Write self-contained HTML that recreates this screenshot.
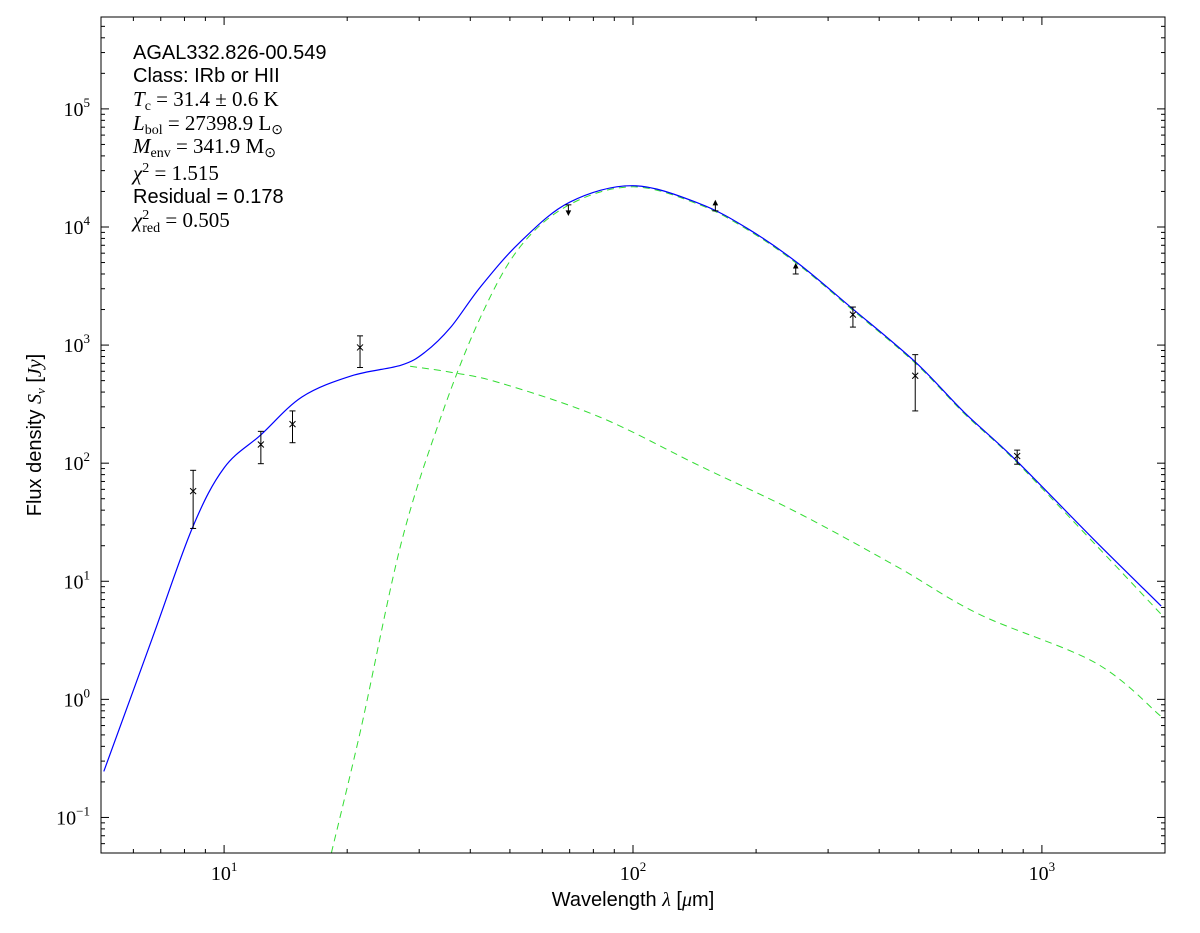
<!DOCTYPE html>
<html><head><meta charset="utf-8">
<style>
html,body{margin:0;padding:0;background:#fff;}
svg{display:block;}
.sans{font-family:"Liberation Sans",sans-serif;}
.serif{font-family:"Liberation Serif",serif;}
</style></head>
<body>
<svg id="chart" width="1200" height="933" viewBox="0 0 1200 933" xmlns="http://www.w3.org/2000/svg">
<rect x="0" y="0" width="1200" height="933" fill="#fff"/>
<g id="curves"></g>
<g id="points"></g>
<g id="ticks"></g>
<rect x="101" y="17" width="1064" height="836" fill="none" stroke="#000" stroke-width="1"/>
<g class="sans" font-size="20" fill="#000">
<text x="133" y="59">AGAL332.826-00.549</text>
<text x="133" y="82">Class: IRb or HII</text>
<text class="serif" font-size="21" x="133" y="106"><tspan font-style="italic">T</tspan><tspan font-size="14" dy="4">c</tspan><tspan dy="-4"> = 31.4 ± 0.6 K</tspan></text>
<text class="serif" font-size="21" x="133" y="130"><tspan font-style="italic">L</tspan><tspan font-size="14" dy="4">bol</tspan><tspan dy="-4"> = 27398.9 L</tspan><tspan font-size="14" dy="4">⊙</tspan></text>
<text class="serif" font-size="21" x="133" y="153"><tspan font-style="italic">M</tspan><tspan font-size="14" dy="4">env</tspan><tspan dy="-4"> = 341.9 M</tspan><tspan font-size="14" dy="4">⊙</tspan></text>
<text class="serif" font-size="21" x="133" y="180"><tspan font-style="italic">χ</tspan><tspan font-size="14" dy="-8">2</tspan><tspan dy="8"> = 1.515</tspan></text>
<text x="133" y="203">Residual = 0.178</text>
<text class="serif" font-size="21" x="133" y="227"><tspan font-style="italic">χ</tspan><tspan font-size="14" dy="-8">2</tspan><tspan font-size="14" dx="-7" dy="13">red</tspan><tspan dy="-5"> = 0.505</tspan></text>
</g>
<text class="sans" x="633" y="906" font-size="20" text-anchor="middle">Wavelength <tspan class="serif" font-style="italic">λ</tspan> [<tspan class="serif" font-style="italic">μ</tspan>m]</text>
<text class="sans" transform="translate(41,435) rotate(-90)" font-size="20" text-anchor="middle">Flux density <tspan class="serif" font-style="italic">S</tspan><tspan class="serif" font-style="italic" font-size="13" dy="4">ν</tspan><tspan dy="-4"> [</tspan><tspan class="serif" font-style="italic">Jy</tspan>]</text>
</svg>
<script>
// data
const totalWl = [5.08,6.68,8.36,10,12.3,15.5,20.5,27.1,31,35.8,42.3,52.9,70,100,145,192,254,341,489,646,855,1361,1958];
const totalLogF = [-0.61,0.52,1.45,1.96,2.24,2.56,2.74,2.83,2.94,3.15,3.49,3.87,4.21,4.35,4.20,3.98,3.69,3.32,2.86,2.43,2.04,1.33,0.79];
const coldWl = [18.3,21.6,27.1,33.9,42.3,52.9,70,100,145,192,254,341,489,646,855,1361,1958];
const coldLogF = [-1.3,-0.25,1.32,2.39,3.23,3.83,4.19,4.34,4.19,3.97,3.68,3.31,2.85,2.42,2.03,1.30,0.72];
const warmWl = [28.5,35.8,47.3,83,145,253,444,703,1350,1950];
const warmLogF = [2.82,2.77,2.68,2.39,1.98,1.58,1.12,0.72,0.31,-0.14];
const ptWl = [8.4,12.3,14.7,21.5,345,490,870];
const ptF = [58,144,214,955,1810,550,115];
const ptLo = [28,99,149,646,1420,277,98];
const ptHi = [87,186,277,1197,2100,830,129];
const limWl = [69.5,159,250];
const limF = [15400,13700,4000];
const limDir = [-1,1,1];
const xTicks = [1,2,3];
const yTicks = [-1,0,1,2,3,4,5];

const NS="http://www.w3.org/2000/svg";
const X0=101,X1=1165,Y0=17,Y1=853;
const lxmin=Math.log10(5),lxmax=Math.log10(2000),lymin=Math.log10(0.05),lymax=Math.log10(6e5);
function xs(v){return X0+(Math.log10(v)-lxmin)/(lxmax-lxmin)*(X1-X0);}
function ysl(l){return Y1-(l-lymin)/(lymax-lymin)*(Y1-Y0);}
function ys(v){return ysl(Math.log10(v));}
function mk(tag,attrs,parent){const e=document.createElementNS(NS,tag);for(const k in attrs)e.setAttribute(k,attrs[k]);parent.appendChild(e);return e;}
const curves=document.getElementById('curves');
function pathFrom(wl,lf){
  const p=wl.map((w,i)=>[xs(w),ysl(lf[i])]);
  let d='M'+p[0][0].toFixed(1)+','+p[0][1].toFixed(1);
  for(let i=0;i<p.length-1;i++){
    const a=p[Math.max(0,i-1)],b=p[i],c=p[i+1],e=p[Math.min(p.length-1,i+2)];
    const c1=[b[0]+(c[0]-a[0])/6,b[1]+(c[1]-a[1])/6],c2=[c[0]-(e[0]-b[0])/6,c[1]-(e[1]-b[1])/6];
    d+=' C'+c1.map(v=>v.toFixed(1))+' '+c2.map(v=>v.toFixed(1))+' '+c[0].toFixed(1)+','+c[1].toFixed(1);
  }
  return d;
}
const cp=mk('clipPath',{id:'clip'},curves);
mk('rect',{x:X0,y:Y0,width:X1-X0,height:Y1-Y0},cp);
let c=mk('path',{d:pathFrom(coldWl,coldLogF),fill:'none',stroke:'#33dd33','stroke-width':1,'stroke-dasharray':'7,5','clip-path':'url(#clip)'},curves);


c=mk('path',{d:pathFrom(warmWl,warmLogF),fill:'none',stroke:'#33dd33','stroke-width':1,'stroke-dasharray':'7,5','clip-path':'url(#clip)'},curves);


c=mk('path',{d:pathFrom(totalWl,totalLogF),fill:'none',stroke:'#0000ff','stroke-width':1.2,'clip-path':'url(#clip)'},curves);



const pts=document.getElementById('points');
ptWl.forEach((w,i)=>{
  const g=mk('g',{stroke:'#000','stroke-width':1,fill:'none'},pts);
  
  
  const x=xs(w),y=ys(ptF[i]),yl=ys(ptLo[i]),yh=ys(ptHi[i]);
  mk('line',{x1:x,y1:yh,x2:x,y2:yl},g);
  mk('line',{x1:x-3,y1:yh,x2:x+3,y2:yh},g);
  mk('line',{x1:x-3,y1:yl,x2:x+3,y2:yl},g);
  mk('path',{d:`M${x-3},${y-3}L${x+3},${y+3}M${x-3},${y+3}L${x+3},${y-3}`},g);
});
limWl.forEach((w,i)=>{
  const g=mk('g',{stroke:'#000','stroke-width':1,fill:'#000'},pts);
  
  
  const x=xs(w),y=ys(limF[i]),d=limDir[i];
  mk('line',{x1:x-3,y1:y,x2:x+3,y2:y},g);
  mk('line',{x1:x,y1:y,x2:x,y2:y-d*8},g);
  mk('path',{d:`M${x-2},${y-d*6}L${x+2},${y-d*6}L${x},${y-d*10}Z`},g);
});

const tk=document.getElementById('ticks');
for(let e=0;e<=4;e++)for(let m=1;m<10;m++){
  const v=m*Math.pow(10,e);if(v<5||v>2000)continue;const x=xs(v);const L=m===1?8:4;
  mk('line',{x1:x,y1:Y1,x2:x,y2:Y1-L,stroke:'#000'},tk);mk('line',{x1:x,y1:Y0,x2:x,y2:Y0+L,stroke:'#000'},tk);
}
for(let e=-2;e<=5;e++)for(let m=1;m<10;m++){
  const v=m*Math.pow(10,e);if(v<0.05||v>6e5)continue;const y=ys(v);const L=m===1?8:4;
  mk('line',{x1:X0,y1:y,x2:X0+L,y2:y,stroke:'#000'},tk);mk('line',{x1:X1,y1:y,x2:X1-L,y2:y,stroke:'#000'},tk);
}
xTicks.forEach(e=>{
  const t=mk('text',{x:xs(Math.pow(10,e)),y:880,'text-anchor':'middle','font-size':20,'font-family':'Liberation Serif, serif'},tk);
  
  
  t.innerHTML='10<tspan font-size="13" dy="-9">'+e+'</tspan>';
});
yTicks.forEach(e=>{
  const t=mk('text',{x:90,y:ys(Math.pow(10,e))+7,'text-anchor':'end','font-size':20,'font-family':'Liberation Serif, serif'},tk);
  
  
  t.innerHTML='10<tspan font-size="13" dy="-9">'+(e<0?'−'+(-e):e)+'</tspan>';
});
</script>
</body></html>
